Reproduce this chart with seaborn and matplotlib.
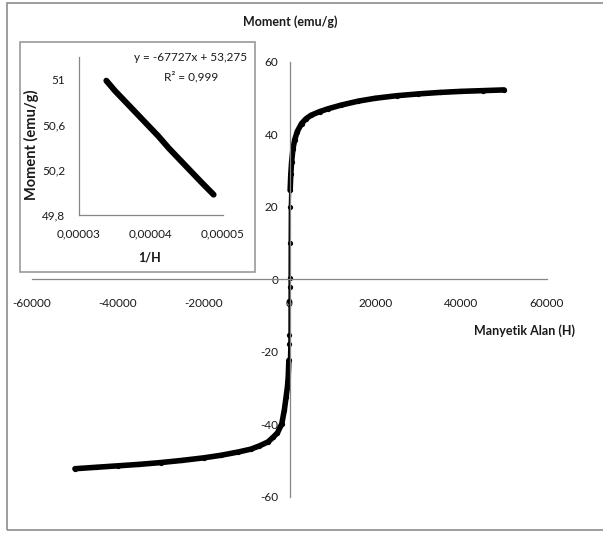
import matplotlib
matplotlib.use("Agg")
from matplotlib import pyplot as plt
import matplotlib.ticker as ticker
import matplotlib.patches as patches
import seaborn as sns
import pandas as pd

sns.set_style("white")
plt.rcParams['font.family'] = ['Lato', 'DejaVu Sans']
plt.rcParams['axes.unicode_minus'] = False

# main curve: field H (Oe) and moment M (emu/g)
field = [-50000, -45000, -40000, -35000, -30000, -25000, -20000, -16000, -12000,
         -9000, -7000, -5000, -3800, -2800, -1800, -1200, -800, -500, -300, -150,
         -60, -20, -5, 0, 5, 20, 60, 150, 300, 500, 800, 1200, 1800, 2800, 3800,
         5000, 7000, 9000, 12000, 16000, 20000, 25000, 30000, 35000, 40000, 45000, 50000]
moment = [-52.2, -51.8, -51.4, -51.0, -50.5, -49.9, -49.2, -48.5, -47.6,
          -46.8, -45.9, -44.8, -43.5, -42.3, -39.8, -36.0, -32.5, -29.8, -27.0, -22.3,
          -17.7, -15.4, -5.8, -2.1, 0.5, 10.0, 20.0, 24.6, 29.0, 32.5, 36.0, 38.5, 40.8, 43.0, 44.3,
          45.3, 46.3, 47.1, 48.1, 49.2, 50.0, 50.7, 51.2, 51.6, 51.9, 52.1, 52.3]

# inset: high field part, M vs 1/H
inv_field = [0.0000338, 0.0000350, 0.0000365, 0.0000380, 0.0000395, 0.0000410,
             0.0000425, 0.0000440, 0.0000455, 0.0000470, 0.0000487]
moment_hf = [50.99, 50.90, 50.80, 50.70, 50.60, 50.50, 50.39, 50.29, 50.19, 50.09, 49.98]

fit_text = 'y = -67727x + 53,275'
r2_text = 'R² = 0,999'

df = pd.DataFrame({'H': field, 'M': moment})
df_in = pd.DataFrame({'invH': inv_field, 'M': moment_hf})

axis_col = '#868686'
txt_col = '#1a1a1a'

fig = plt.figure(figsize=(6.03, 5.34), dpi=100)

# outer chart border
fig.patches.append(patches.Rectangle((0.0116, 0.0075), 1.0, 0.987, transform=fig.transFigure,
                                     fill=False, edgecolor='#8c8c8c', lw=1.2, zorder=-1))

ax = fig.add_axes([0.0531, 0.0693, 0.854, 0.8146])
sns.lineplot(data=df, x='H', y='M', sort=False, color='black', lw=1.6,
             marker='o', markersize=3.8, markeredgewidth=0, ax=ax)
thick = df[df['H'].abs() >= 150]
sns.lineplot(data=thick[thick['H'] < 0], x='H', y='M', sort=False, color='black',
             lw=4, solid_capstyle='round', ax=ax)
sns.lineplot(data=thick[thick['H'] > 0], x='H', y='M', sort=False, color='black',
             lw=4, solid_capstyle='round', ax=ax)

ax.set_xlim(-60000, 60000)
ax.set_ylim(-60, 60)
ax.set_xticks(range(-60000, 60001, 20000))
ax.set_yticks(range(-60, 61, 20))
ax.spines['left'].set_position(('data', 0))
ax.spines['bottom'].set_position(('data', 0))
for s in ['top', 'right']:
    ax.spines[s].set_visible(False)
for s in ['left', 'bottom']:
    ax.spines[s].set_color(axis_col)
    ax.spines[s].set_linewidth(0.9)
ax.tick_params(axis='x', direction='out', length=4, width=0.9, color=axis_col,
               labelsize=8.5, labelcolor=txt_col, pad=9)
ax.tick_params(axis='y', direction='out', length=4, width=0.9, color=axis_col,
               labelsize=8.5, labelcolor=txt_col, pad=4)
ax.set_xlabel('')
ax.set_ylabel('')
ax.patch.set_alpha(0)

fig.text(0.481, 0.959, 'Moment (emu/g)', ha='center', va='center',
         fontsize=9, fontweight='bold', color=txt_col)
fig.text(0.87, 0.38, 'Manyetik Alan (H)', ha='center', va='center',
         fontsize=9, fontweight='bold', color=txt_col)

# inset box
fig.patches.append(patches.Rectangle((0.0332, 0.4906), 0.3897, 0.4307, transform=fig.transFigure,
                                     facecolor='white', edgecolor='#9a9a9a', lw=1.2, zorder=1))

ins = fig.add_axes([0.131, 0.5974, 0.2388, 0.2959], zorder=2)
sns.lineplot(data=df_in, x='invH', y='M', color='black', lw=4.3,
             solid_capstyle='round', ax=ins)
ins.set_xlim(0.00003, 0.00005)
ins.set_ylim(49.8, 51.2)
ins.set_xticks([0.00003, 0.00004, 0.00005])
ins.set_yticks([49.8, 50.2, 50.6, 51.0])
ins.xaxis.set_major_formatter(ticker.FuncFormatter(lambda v, p: ('%.5f' % v).replace('.', ',')))
ins.yaxis.set_major_formatter(ticker.FuncFormatter(
    lambda v, p: ('%g' % round(v, 1)).replace('.', ',')))
for s in ['top', 'right']:
    ins.spines[s].set_visible(False)
for s in ['left', 'bottom']:
    ins.spines[s].set_color(axis_col)
    ins.spines[s].set_linewidth(0.9)
ins.tick_params(direction='out', length=4, width=0.9, color=axis_col,
                labelsize=8.5, labelcolor=txt_col, pad=6)
ins.set_xlabel('')
ins.set_ylabel('')
ins.patch.set_alpha(0)

fig.text(0.053, 0.7294, 'Moment (emu/g)', ha='center', va='center', rotation=90,
         fontsize=10.5, fontweight='bold', color=txt_col)
fig.text(0.2488, 0.5169, '1/H', ha='center', va='center',
         fontsize=9, fontweight='bold', color=txt_col)
fig.text(0.3167, 0.893, fit_text, ha='center', va='center', fontsize=8.5, color=txt_col)
fig.text(0.3167, 0.856, r2_text, ha='center', va='center', fontsize=8.5, color=txt_col)

fig.savefig('out.png', dpi=100)
